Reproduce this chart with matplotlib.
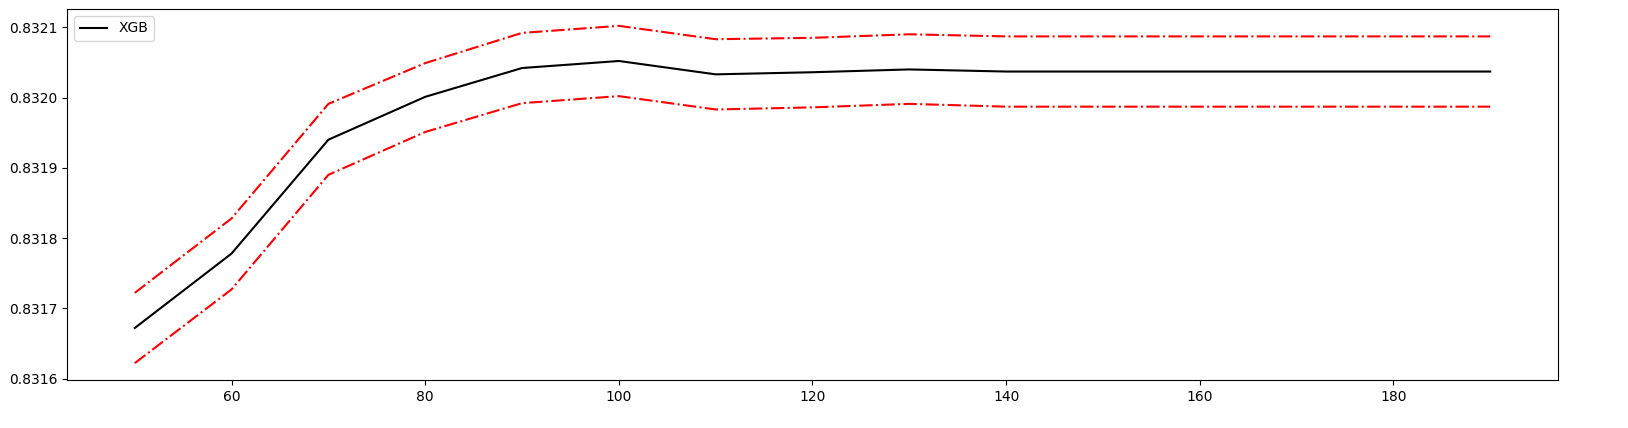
import matplotlib
matplotlib.use("Agg")
import matplotlib.pyplot as plt
import numpy as np

x = list(range(50, 200, 10))
mean = [0.831672, 0.831778, 0.831940, 0.832001, 0.832042, 0.832052, 0.832033, 0.832036,
        0.832040, 0.832037, 0.832037, 0.832037, 0.832037, 0.832037, 0.832037]
upper = [0.831722, 0.831828, 0.831991, 0.832049, 0.832092, 0.832102, 0.832083, 0.832085,
         0.832090, 0.832087, 0.832087, 0.832087, 0.832087, 0.832087, 0.832087]
lower = [0.831622, 0.831727, 0.831890, 0.831951, 0.831992, 0.832002, 0.831983, 0.831986,
         0.831991, 0.831987, 0.831987, 0.831987, 0.831987, 0.831987, 0.831987]

fig = plt.figure(figsize=(16.28, 4.28), dpi=100)
ax = fig.add_axes([67/1628, 48/428, 1491/1628, 371/428])
ax.plot(x, mean, color="black", label="XGB")
ax.plot(x, upper, color="red", linestyle="-.")
ax.plot(x, lower, color="red", linestyle="-.")
ax.legend(loc="upper left")
ax.ticklabel_format(axis="y", useOffset=False)
fig.savefig("out.png")
